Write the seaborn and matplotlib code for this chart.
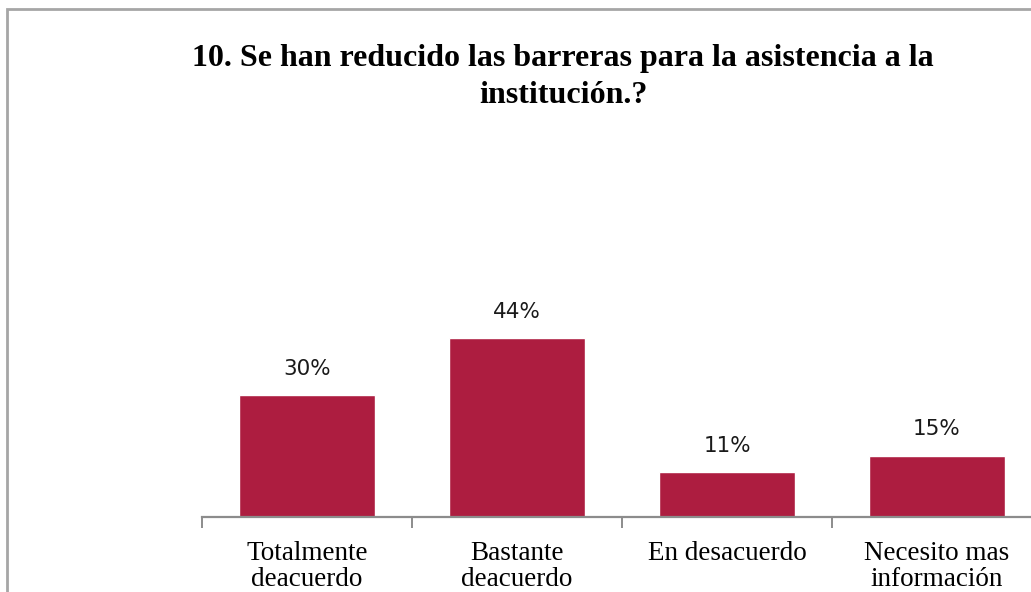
import matplotlib
matplotlib.use("Agg")
import matplotlib.pyplot as plt
import seaborn as sns
import pandas as pd
from matplotlib.patches import Rectangle

# survey answers for question 10
categories = ["Totalmente\ndeacuerdo", "Bastante\ndeacuerdo", "En desacuerdo", "Necesito mas\ninformación"]
percentages = [30, 44, 11, 15]
title = "10. Se han reducido las barreras para la asistencia a la\ninstitución.?"

BAR_COLOR = "#AD1D40"
AXIS_GRAY = "#8C8C8C"

df = pd.DataFrame({"respuesta": categories, "pct": percentages})

sns.set_theme(style="white")
plt.rcParams["font.family"] = ["Liberation Serif", "DejaVu Serif"]

W, H = 1031, 592
fig = plt.figure(figsize=(W / 100, H / 100), dpi=100)

# plot area runs off the right edge, like the cropped original
ax = fig.add_axes([202 / W, (H - 517) / H, 840 / W, 387 / H])
sns.barplot(data=df, x="respuesta", y="pct", color=BAR_COLOR, width=0.65,
            saturation=1, ax=ax)

ax.set_xlim(-0.5, 3.5)
ax.set_ylim(0, 387 / 4.06)
ax.set_xlabel("")
ax.set_ylabel("")
ax.set_yticks([])

for side in ["left", "right", "top"]:
    ax.spines[side].set_visible(False)
ax.spines["bottom"].set_color(AXIS_GRAY)
ax.spines["bottom"].set_linewidth(1.6)

# tick marks sit on the category boundaries, labels in the centres
ax.set_xticks([-0.5, 0.5, 1.5, 2.5], minor=True)
ax.tick_params(axis="x", which="minor", direction="out", length=8, width=1.4,
               color=AXIS_GRAY, bottom=True)
ax.tick_params(axis="x", which="major", length=0, pad=17, labelsize=19.5,
               labelcolor="black")
for lab in ax.get_xticklabels():
    lab.set_linespacing(1.08)

for cont in ax.containers:
    ax.bar_label(cont, labels=[f"{v}%" for v in percentages], padding=12,
                 fontsize=15.5, family="DejaVu Sans", color="#1A1A1A")

fig.text(563 / W, 1 - 77 / H, title, ha="center", va="center", fontsize=23,
         fontweight="bold", linespacing=1.38, color="black")

# outer chart-area border (only the top and left edges are in frame)
fig.patches.append(Rectangle((7 / W, -0.1), 1.2, 1 - 9 / H + 0.1,
                             transform=fig.transFigure, fill=False,
                             edgecolor="#A6A6A6", linewidth=2))

fig.savefig("out.png", dpi=100)
